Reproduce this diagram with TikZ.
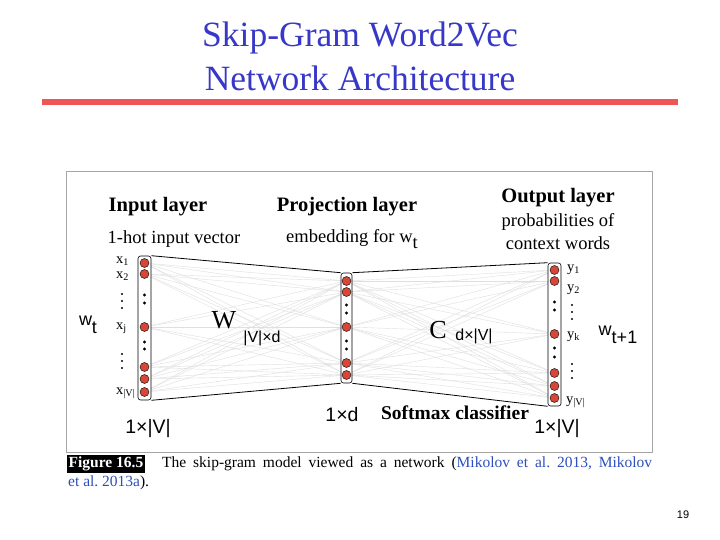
\documentclass[tikz,border=0pt]{standalone}
\usepackage{fontspec}
\setmainfont{Liberation Serif}
\setsansfont{Liberation Sans}
\definecolor{titleblue}{RGB}{55,55,200}
\definecolor{redrule}{RGB}{240,85,85}
\definecolor{neured}{RGB}{215,70,55}
\definecolor{citeblue}{RGB}{45,80,190}
\begin{document}
\frenchspacing
\begin{tikzpicture}[x=1pt,y=-1pt,
  title/.style={text=titleblue,font=\fontsize{35.5}{36}\selectfont,inner sep=0pt},
  conn/.style={gray!25,line width=0.4pt},
  env/.style={black,line width=0.8pt},
  col/.style={draw=black,fill=white,rounded corners=2.5pt,line width=0.6pt,inner sep=0pt},
  neuron/.style={circle,draw=black,line width=0.4pt,fill=neured,minimum size=9pt,inner sep=0pt},
  hdr/.style={font=\fontsize{20.5}{21}\selectfont\bfseries,inner sep=0pt},
  sub/.style={font=\fontsize{18.5}{20}\selectfont,inner sep=0pt,align=center},
  lab/.style={font=\fontsize{14.5}{14}\selectfont,inner sep=0pt,anchor=west},
  dim/.style={font=\fontsize{19.5}{19}\sffamily\selectfont,inner sep=0pt},
  dims/.style={font=\fontsize{16}{16}\sffamily\selectfont,inner sep=0pt},
  wlab/.style={font=\fontsize{18}{18}\sffamily\selectfont,inner sep=0pt},
  big/.style={font=\fontsize{26}{26}\selectfont,inner sep=0pt},
  capt/.style={font=\fontsize{15.5}{15}\selectfont,inner sep=0pt,anchor=west}]
\useasboundingbox (0,0) rectangle (720,540);
\fill[white] (0,0) rectangle (720,540);
% title
\node[title] (t1) at (360,38) {Skip-Gram Word2Vec};
\node[title] (t2) at (360,78) {Network Architecture};
\coordinate (r1) at (42,102);
\coordinate (r2) at (678,102);
\draw[redrule,line width=6pt] (r1) -- (r2);
% figure frame
\draw[gray!70,line width=0.7pt] (66,171) rectangle (652,452);
% layer coordinates
\foreach \y [count=\i] in {263,274,327,367,379,392} \coordinate (a\i) at (144.5,\y);
\foreach \y [count=\i] in {281,292,327,363,375} \coordinate (b\i) at (346.5,\y);
\foreach \y [count=\i] in {270,281,334,373,386,398} \coordinate (c\i) at (554.5,\y);
% gray connections
\foreach \i in {1,...,6} \foreach \j in {1,...,5} \draw[conn] (a\i) -- (b\j);
\foreach \j in {1,...,5} \foreach \k in {1,...,6} \draw[conn] (b\j) -- (c\k);
% columns
\node[col,minimum width=13pt,minimum height=144pt] (L1) at (144.5,328) {};
\node[col,minimum width=11pt,minimum height=110pt] (L2) at (346.5,328) {};
\node[col,minimum width=13pt,minimum height=143pt] (L3) at (554.5,334.5) {};
\draw[env] (L1.north east) -- (L2.north west);
\draw[env] (L1.south east) -- (L2.south west);
\draw[env] (L2.north east) -- (L3.north west);
\draw[env] (L2.south east) -- (L3.south west);
% neurons
\foreach \i in {1,...,6} \node[neuron] (na\i) at (a\i) {};
\foreach \i in {1,...,5} \node[neuron] (nb\i) at (b\i) {};
\foreach \i in {1,...,6} \node[neuron] (nc\i) at (c\i) {};
% dots in columns
\foreach \y in {295,303,342,349} \fill (144.5,\y) circle (1.6);
\foreach \y in {305,313,341,349} \fill (346.5,\y) circle (1.6);
\foreach \y in {302,310,348,357} \fill (554.5,\y) circle (1.6);
% vertical ellipses next to labels
\foreach \y in {294,301,308,354,361,368} \fill (122,\y) circle (1.1);
\foreach \y in {305,312,319,364,371,378} \fill (572,\y) circle (1.1);
% headers
\node[hdr] (h1) at (158,207) {Input layer};
\node[sub] (s1) at (174,239) {1-hot input vector};
\node[hdr] (h2) at (347,207) {Projection layer};
\node[sub] (s2) at (352,239) {embedding for w\raisebox{-0.3em}{t}};
\node[hdr] (h3) at (558,198) {Output layer};
\node[sub] (s3) at (558,222) {probabilities of};
\node[sub] (s4) at (558,243) {context words};
% x labels
\node[lab] (x1) at (116,261) {x\textsubscript{1}};
\node[lab] (x2) at (116,276) {x\textsubscript{2}};
\node[lab] (xj) at (116,328) {x\textsubscript{j}};
\node[lab] (xv) at (116,393) {x\textsubscript{|V|}};
% y labels
\node[lab] (y1) at (567,270) {y\textsubscript{1}};
\node[lab] (y2) at (567,290) {y\textsubscript{2}};
\node[lab] (yk) at (567,337) {y\textsubscript{k}};
\node[lab] (yv) at (566,402) {y\textsubscript{|V|}};
% word labels
\node[wlab] (wt) at (88,325) {w\raisebox{-0.45em}{t}};
\node[wlab] (wt1) at (618,335) {w\raisebox{-0.45em}{t+1}};
% matrices
\node[big] (W) at (224,320) {W};
\node[dims] (Wd) at (262,338) {|V|×d};
\node[big] (C) at (438,330) {C};
\node[dims] (Cd) at (474,336) {d×|V|};
% dimensions
\node[dim] (d1) at (148,428) {1×|V|};
\node[dim] (d2) at (342,415) {1×d};
\node[dim] (d3) at (557,428) {1×|V|};
\node[font=\fontsize{19.5}{19}\selectfont\bfseries,inner sep=0pt] (sm) at (455,413) {Softmax classifier};
% caption
\node[fill=black,text=white,font=\fontsize{15.5}{15}\selectfont\bfseries,inner sep=1.5pt,anchor=west] (fig) at (67,464) {Figure 16.5};
\node[capt] (c1) at (162,464) {\makebox[490pt][s]{The skip-gram model viewed as a network (\textcolor{citeblue}{Mikolov et al. 2013, Mikolov}}};
\node[capt] (c2) at (68,483) {\textcolor{citeblue}{et al. 2013a}).};
% page number
\node[font=\fontsize{11}{11}\sffamily\selectfont,inner sep=0pt] (pg) at (683,515) {19};
\end{tikzpicture}
\end{document}
